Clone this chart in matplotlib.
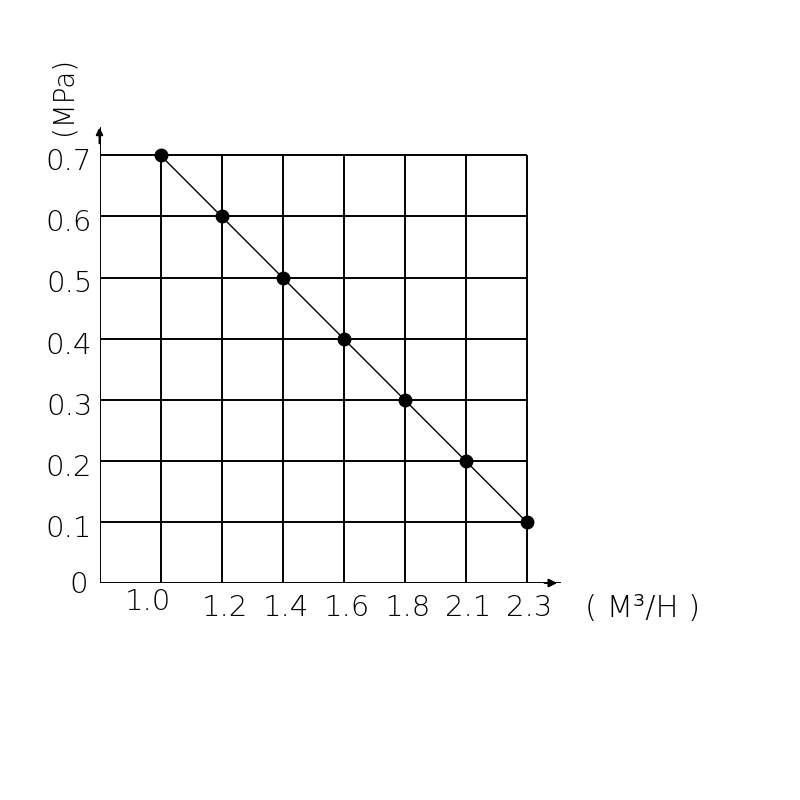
import matplotlib
matplotlib.use("Agg")
import matplotlib.pyplot as plt

# Data
flow_labels = ["1.0", "1.2", "1.4", "1.6", "1.8", "2.1", "2.3"]
pressure = [0.7, 0.6, 0.5, 0.4, 0.3, 0.2, 0.1]
y_ticks = [0, 0.1, 0.2, 0.3, 0.4, 0.5, 0.6, 0.7]
y_tick_labels = ["0", "0.1", "0.2", "0.3", "0.4", "0.5", "0.6", "0.7"]
x_unit = "( M³/H )"
y_unit = "(MPa)"

FONT = ["DejaVu Sans"]
FW = "ultralight"
PX = 0.8 / 488.8  # data units per pixel (y)

fig = plt.figure(figsize=(8, 8), dpi=100)
fig.patch.set_facecolor("white")
ax = fig.add_axes([99.5 / 800, (800 - 583) / 800, 61 * 8 / 800, 61.1 * 8 / 800])
ax.set_xlim(0, 8)
ax.set_ylim(0, 0.8)
ax.axis("off")

xs = list(range(1, len(flow_labels) + 1))
xmax = xs[-1]
ymax = y_ticks[-1]

# grid
for x in xs:
    ax.plot([x, x], [0, ymax], color="black", lw=1.4, solid_capstyle="butt")
for y in y_ticks[1:]:
    ax.plot([0, xmax], [y, y], color="black", lw=1.4, solid_capstyle="butt")

# axes with arrows
ax.plot([0, 7.55], [0, 0], color="black", lw=1.4)
ax.plot([0, 0], [0, 0.745], color="black", lw=1.4)
ax.annotate("", xy=(7.55, 0), xytext=(7.25, 0),
            arrowprops=dict(arrowstyle="-|>", color="black", lw=1.4, mutation_scale=12))
ax.annotate("", xy=(0, 0.75), xytext=(0, 0.715),
            arrowprops=dict(arrowstyle="-|>", color="black", lw=1.4, mutation_scale=10))

# data curve
ax.plot(xs, pressure, color="black", lw=1.0, marker="o", markersize=9,
        markerfacecolor="black", markeredgecolor="black")

# y tick labels
for y, lab in zip(y_ticks, y_tick_labels):
    if lab == "0":
        ax.text(-0.19, y - 10 * PX, lab, ha="right", va="baseline", fontsize=21,
                family=FONT, fontweight=FW, color="black")
    else:
        ax.text(-0.12, y - 15 * PX, lab, ha="right", va="baseline", fontsize=21,
                family=FONT, fontweight=FW, color="black")

# x tick labels
for x, lab in zip(xs, flow_labels):
    if lab == "1.0":
        ax.text(x - 0.2, -27 * PX, lab, ha="center", va="baseline", fontsize=21,
                family=FONT, fontweight=FW, color="black")
    else:
        ax.text(x + 0.05, -33 * PX, lab, ha="center", va="baseline", fontsize=21,
                family=FONT, fontweight=FW, color="black")

# units
ax.text(7.96, -34 * PX, x_unit, ha="left", va="baseline", fontsize=22,
        family=FONT, fontweight=FW, color="black")
fig.text(63 / 800, 1 - 96 / 800, y_unit, rotation=90, ha="center", va="center",
         fontsize=20, family=FONT, fontweight=FW, color="black")

fig.savefig("out.png", dpi=100, facecolor="white")
